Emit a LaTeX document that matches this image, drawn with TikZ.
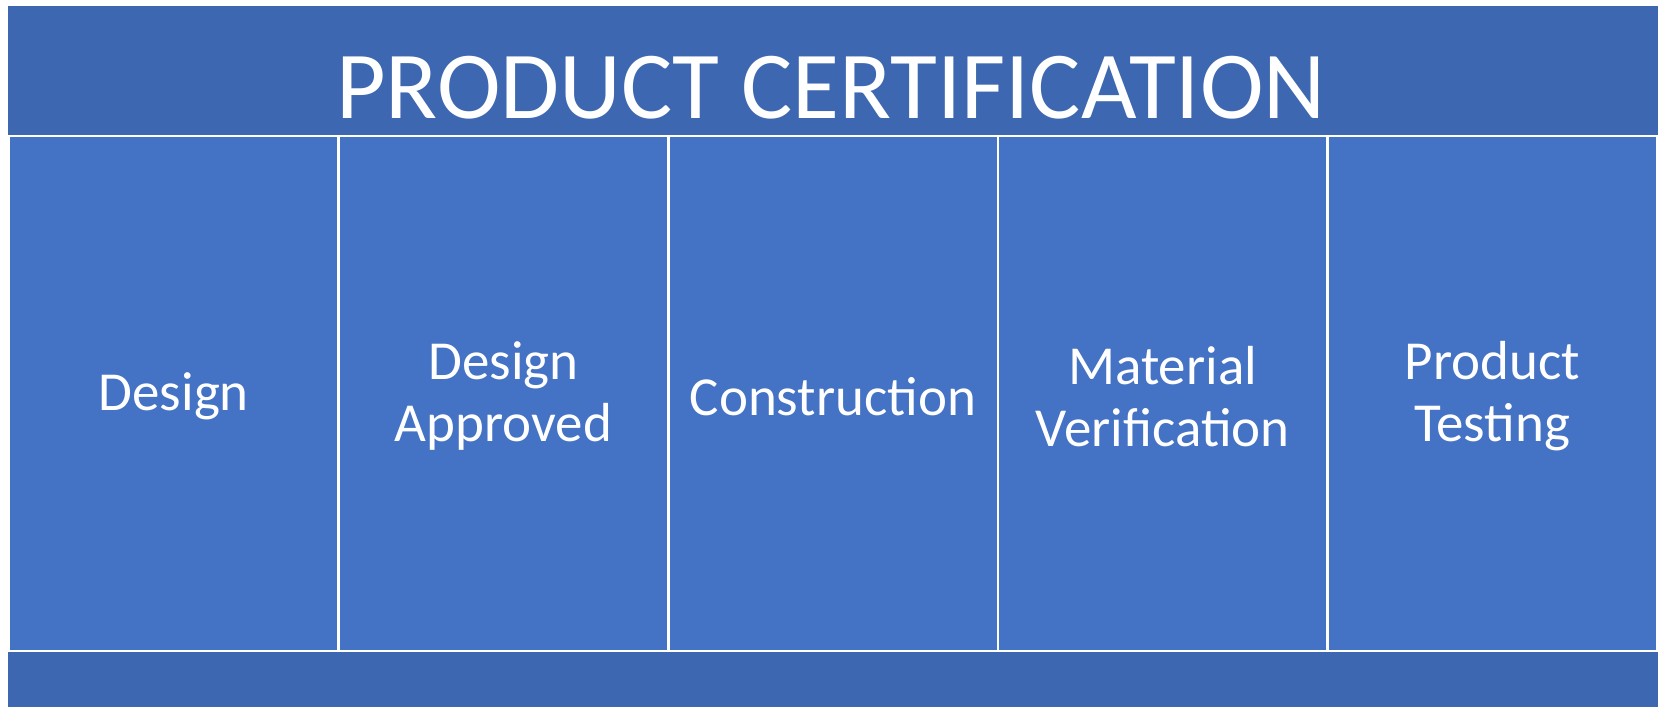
\documentclass[tikz,border=0pt]{standalone}
\usepackage{fontspec}
\setmainfont{Carlito}
\definecolor{band}{HTML}{3D67B0}
\definecolor{panel}{HTML}{4472C4}
\tikzset{
  panelbox/.style={draw=white, line width=1.3pt, fill=panel, minimum width=164.8pt, minimum height=257.5pt, inner sep=0pt},
  paneltext/.style={text=white, align=center, inner sep=0pt, font=\fontsize{27.5}{31}\selectfont},
  titletext/.style={text=white, font=\fontsize{48}{56}\selectfont, inner sep=0pt, anchor=base}
}
\begin{document}
\begin{tikzpicture}[x=0.5pt, y=-0.5pt]
\useasboundingbox (0,0) rectangle (1658,707);
\fill[white] (0,0) rectangle (1658,707);
\fill[band] (8,6) rectangle (1658,707);
\node[titletext] (title) at (831,118) {PRODUCT CERTIFICATION};
\node[panelbox] (p1) at (173.8,393.5) {};
\node[panelbox] (p2) at (503.4,393.5) {};
\node[panelbox] (p3) at (833,393.5) {};
\node[panelbox] (p4) at (1162.6,393.5) {};
\node[panelbox] (p5) at (1492.2,393.5) {};
\node[paneltext] (t1) at ([yshift=-1.5pt]p1.center) {Design};
\node[paneltext] (t2) at ([yshift=-1.5pt]p2.center) {Design\\Approved};
\node[paneltext] (t3) at ([yshift=-1.5pt]p3.center) {Construction};
\node[paneltext] (t4) at ([yshift=-1.5pt]p4.center) {Material\\Verification};
\node[paneltext] (t5) at ([yshift=-1.5pt]p5.center) {Product\\Testing};
\end{tikzpicture}
\end{document}
